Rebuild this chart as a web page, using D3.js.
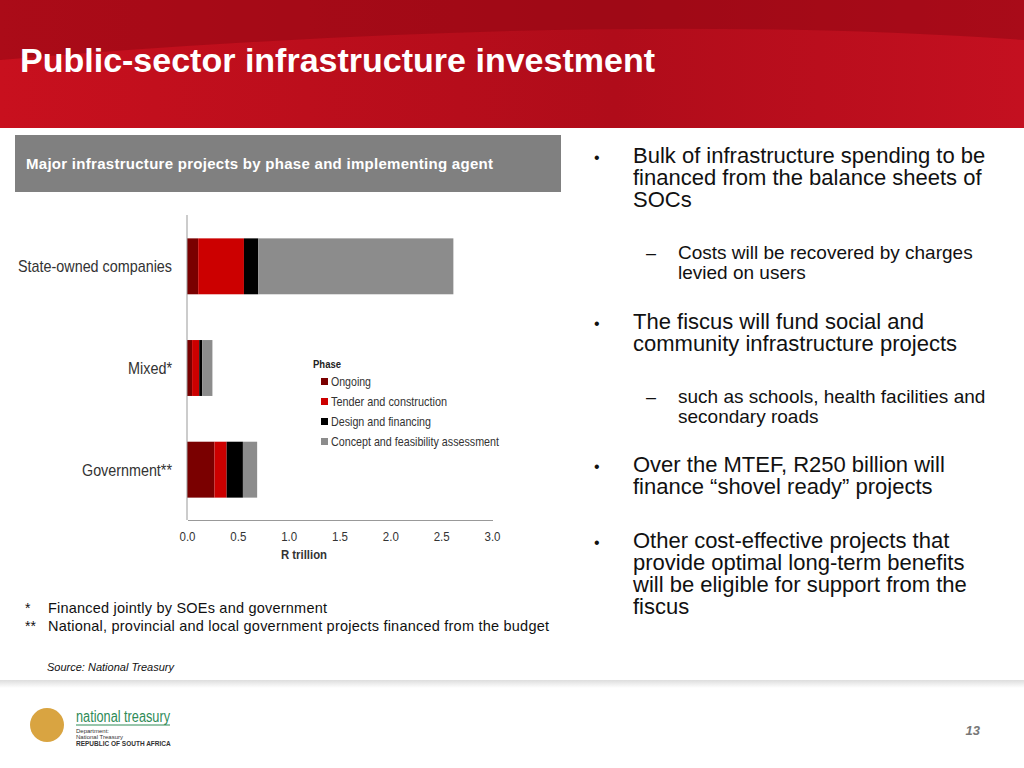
<!DOCTYPE html>
<html>
<head>
<script src="https://cdnjs.cloudflare.com/ajax/libs/d3/7.8.5/d3.min.js"></script>
<style>
  body { margin: 0; font-family: "Liberation Sans", Arial, sans-serif; }
  .axis path, .axis line { fill: none; stroke: #999; shape-rendering: crispEdges; }
  .axis text { font-family: "Liberation Sans", sans-serif; font-size: 12px; fill: #333; }
</style>
</head>
<body>
<script>
var categories = ["State-owned companies", "Mixed*", "Government**"];
var catWidths = [154, 44, 90];
var phases = ["Ongoing", "Tender and construction", "Design and financing", "Concept and feasibility assessment"];
var legWidths = [40, 116, 100, 168];
var colors = ["#7a0000", "#cc0000", "#000000", "#8c8c8c"];
var ongoing = [0.11, 0.05, 0.27];
var tender = [0.45, 0.07, 0.12];
var design = [0.14, 0.03, 0.16];
var concept = [1.92, 0.10, 0.14];
var xTicks = [0, 0.5, 1.0, 1.5, 2.0, 2.5, 3.0];
var bullets = [
  {lvl: 1, y: 156, lines: ["Bulk of infrastructure spending to be", "financed from the balance sheets of", "SOCs"]},
  {lvl: 2, y: 252, lines: ["Costs will be recovered by charges", "levied on users"]},
  {lvl: 1, y: 322, lines: ["The fiscus will fund social and", "community infrastructure projects"]},
  {lvl: 2, y: 396, lines: ["such as schools, health facilities and", "secondary roads"]},
  {lvl: 1, y: 465, lines: ["Over the MTEF, R250 billion will", "finance \u201cshovel ready\u201d projects"]},
  {lvl: 1, y: 541, lines: ["Other cost-effective projects that", "provide optimal long-term benefits", "will be eligible for support from the", "fiscus"]}
];

var svg = d3.select("body").append("svg").attr("width", 1024).attr("height", 768);

// header
var defs = svg.append("defs");
var g1 = defs.append("linearGradient").attr("id", "hdr").attr("x1", 0).attr("x2", 1).attr("y1", 0).attr("y2", 0);
g1.append("stop").attr("offset", "0%").attr("stop-color", "#c8101e");
g1.append("stop").attr("offset", "60%").attr("stop-color", "#b00c1a");
g1.append("stop").attr("offset", "100%").attr("stop-color", "#c41020");
svg.append("rect").attr("width", 1024).attr("height", 128).attr("fill", "url(#hdr)");
svg.append("path").attr("d", "M0,0 L1024,0 L1024,40 Q600,10 0,60 Z").attr("fill", "#8e0612").attr("opacity", 0.5);
svg.append("text").attr("x", 20).attr("y", 72).text("Public-sector infrastructure investment")
  .attr("fill", "white").attr("font-size", 34).attr("font-weight", "bold").attr("textLength", 635);

// subtitle box
svg.append("rect").attr("x", 15).attr("y", 135).attr("width", 546).attr("height", 57).attr("fill", "#808080");
svg.append("text").attr("x", 26).attr("y", 169).text("Major infrastructure projects by phase and implementing agent")
  .attr("fill", "white").attr("font-size", 15).attr("font-weight", "bold").attr("textLength", 467);

// chart
var x = d3.scaleLinear().domain([0, 3]).range([187, 492]);
var y = d3.scaleBand().domain(categories).range([216, 520]).paddingInner(0.45).paddingOuter(0.22);
var stackData = categories.map(function(c, i) {
  return {cat: c, Ongoing: ongoing[i], "Tender and construction": tender[i], "Design and financing": design[i], "Concept and feasibility assessment": concept[i]};
});
var series = d3.stack().keys(phases)(stackData);
series.forEach(function(s, k) {
  svg.append("g").selectAll("rect").data(s).enter().append("rect")
    .attr("x", function(d) { return x(d[0]); })
    .attr("width", function(d) { return x(d[1]) - x(d[0]); })
    .attr("y", function(d) { return y(d.data.cat); })
    .attr("height", y.bandwidth())
    .attr("fill", colors[k]);
});
svg.append("g").attr("class", "axis").attr("transform", "translate(0,520)")
  .call(d3.axisBottom(x).tickValues(xTicks).tickFormat(d3.format(".1f")).tickSize(0).tickPadding(12))
  .selectAll("text").attr("textLength", 16).attr("lengthAdjust", "spacingAndGlyphs");
svg.append("line").attr("x1", 187).attr("x2", 187).attr("y1", 215).attr("y2", 520).attr("stroke", "#999");
svg.selectAll(".cat").data(categories).enter().append("text")
  .attr("x", 172).attr("y", function(d) { return y(d) + y.bandwidth() / 2 + 6; })
  .attr("text-anchor", "end").text(function(d) { return d; })
  .attr("textLength", function(d, i) { return catWidths[i]; }).attr("lengthAdjust", "spacingAndGlyphs")
  .attr("font-size", 17).attr("fill", "#333");
svg.append("text").attr("x", 304).attr("y", 559).attr("text-anchor", "middle").text("R trillion")
  .attr("textLength", 46).attr("lengthAdjust", "spacingAndGlyphs")
  .attr("font-size", 13).attr("font-weight", "bold").attr("fill", "#333");

// legend
svg.append("text").attr("x", 313).attr("y", 368).text("Phase")
  .attr("font-size", 11).attr("font-weight", "bold").attr("fill", "#222")
  .attr("textLength", 28).attr("lengthAdjust", "spacingAndGlyphs");
phases.forEach(function(p, i) {
  svg.append("rect").attr("x", 321).attr("y", 378 + i * 20).attr("width", 7).attr("height", 7).attr("fill", colors[i]);
  svg.append("text").attr("x", 331).attr("y", 386 + i * 20).text(p)
    .attr("textLength", legWidths[i]).attr("lengthAdjust", "spacingAndGlyphs")
    .attr("font-size", 13).attr("fill", "#333");
});

// footnotes
svg.append("text").attr("x", 25).attr("y", 613).text("*").attr("font-size", 14).attr("fill", "#111");
svg.append("text").attr("x", 48).attr("y", 613).text("Financed jointly by SOEs and government").attr("font-size", 14.5).attr("fill", "#111").attr("textLength", 279);
svg.append("text").attr("x", 25).attr("y", 631).text("**").attr("font-size", 14).attr("fill", "#111");
svg.append("text").attr("x", 48).attr("y", 631).text("National, provincial and local government projects financed from the budget").attr("font-size", 14.5).attr("fill", "#111").attr("textLength", 501);
svg.append("text").attr("x", 47).attr("y", 671).text("Source: National Treasury").attr("font-size", 11).attr("font-style", "italic").attr("fill", "#111");

// bullets
bullets.forEach(function(b) {
  var bx = b.lvl === 1 ? 633 : 678, fs = b.lvl === 1 ? 22 : 19, lh = b.lvl === 1 ? 22 : 19.5;
  svg.append("text").attr("x", b.lvl === 1 ? 594 : 646).attr("y", b.y + 7).text(b.lvl === 1 ? "\u2022" : "\u2013")
    .attr("font-size", b.lvl === 1 ? 16 : 18).attr("fill", "#111");
  b.lines.forEach(function(l, j) {
    svg.append("text").attr("x", bx).attr("y", b.y + 7 + j * lh).text(l).attr("font-size", fs).attr("fill", "#111");
  });
});

// footer
var g2 = defs.append("linearGradient").attr("id", "ftr").attr("x1", 0).attr("x2", 0).attr("y1", 0).attr("y2", 1);
g2.append("stop").attr("offset", "0%").attr("stop-color", "#ddd");
g2.append("stop").attr("offset", "100%").attr("stop-color", "#fff");
svg.append("rect").attr("y", 680).attr("width", 1024).attr("height", 8).attr("fill", "url(#ftr)");
svg.append("circle").attr("cx", 47).attr("cy", 725).attr("r", 17).attr("fill", "#d9a441");
svg.append("text").attr("x", 76).attr("y", 722).text("national treasury").attr("font-size", 16).attr("fill", "#2e8b57")
  .attr("textLength", 94).attr("lengthAdjust", "spacingAndGlyphs");
svg.append("line").attr("x1", 76).attr("x2", 170).attr("y1", 725).attr("y2", 725).attr("stroke", "#2e8b57");
svg.append("text").attr("x", 76).attr("y", 733).text("Department:").attr("font-size", 6).attr("fill", "#333");
svg.append("text").attr("x", 76).attr("y", 739).text("National Treasury").attr("font-size", 6).attr("fill", "#333");
svg.append("text").attr("x", 76).attr("y", 746).text("REPUBLIC OF SOUTH AFRICA").attr("font-size", 6.5).attr("font-weight", "bold").attr("fill", "#333");
svg.append("text").attr("x", 980).attr("y", 735).attr("text-anchor", "end").text("13")
  .attr("font-size", 13).attr("font-style", "italic").attr("font-weight", "bold").attr("fill", "#777");
</script>
</body>
</html>
